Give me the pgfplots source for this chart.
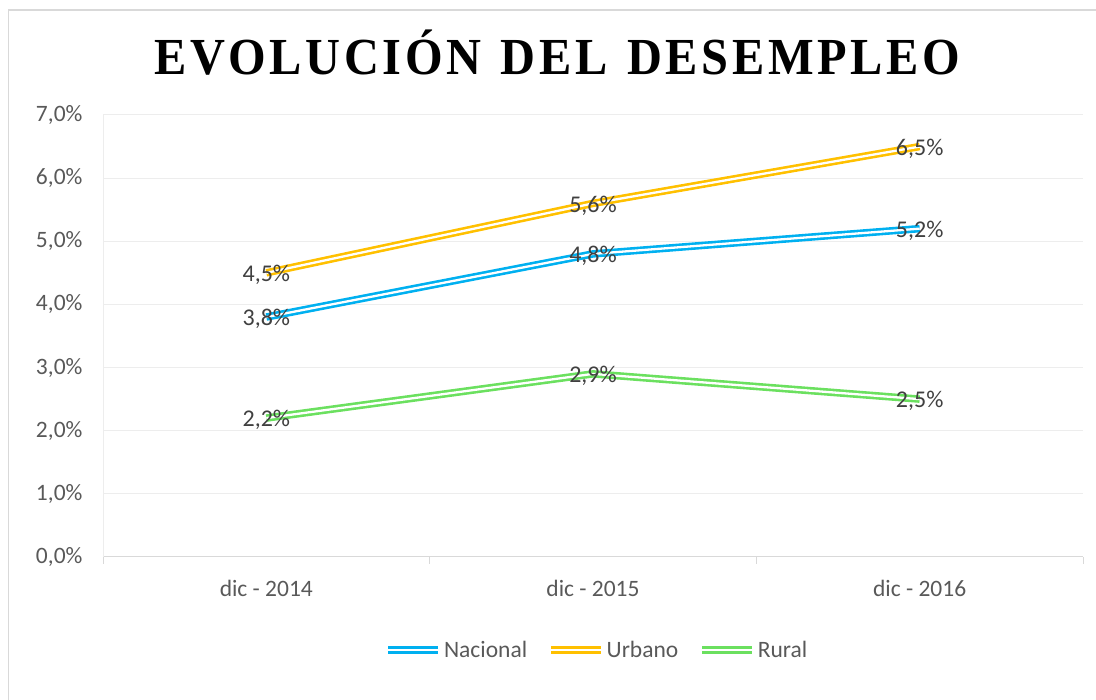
\documentclass[border=0pt]{standalone}
\usepackage{pgfplots}
\pgfplotsset{compat=1.18}
\usepackage{fontspec}
\setmainfont{Carlito}
\newfontfamily\titlefont[LetterSpace=7,FakeStretch=0.93,WordSpace=1.25]{Liberation Serif}
\definecolor{nac}{HTML}{00B0F0}
\definecolor{urb}{HTML}{FFC000}
\definecolor{rur}{HTML}{6BE05F}
\definecolor{tickc}{HTML}{595959}
\definecolor{labc}{HTML}{404040}
\definecolor{gridc}{HTML}{EDEDED}
\definecolor{axc}{HTML}{D9D9D9}
\begin{document}
\begin{tikzpicture}[x=1pt,y=1pt]
\useasboundingbox (0,0) rectangle (1096,700);
\draw[color=axc, line width=1.5pt] (8.5,-20) -- (8.5,690) -- (1120,690);
\node[anchor=base, inner sep=0pt, font=\titlefont\bfseries\fontsize{52}{60}\selectfont] at (557.5,625) {EVOLUCIÓN DEL DESEMPLEO};
\begin{axis}[
  at={(103pt,143pt)}, anchor=south west,
  scale only axis, width=980pt, height=442pt,
  xmin=-0.5, xmax=2.5, ymin=0, ymax=7,
  axis x line=bottom, axis y line=left,
  axis line style={-},
  x axis line style={draw=axc, line width=1pt},
  y axis line style={draw=gridc, line width=1pt},
  xtick={0,1,2},
  xticklabels={dic - 2014, dic - 2015, dic - 2016},
  ytick={0,1,2,3,4,5,6,7},
  yticklabels={{0,0\%},{1,0\%},{2,0\%},{3,0\%},{4,0\%},{5,0\%},{6,0\%},{7,0\%}},
  major tick length=0pt,
  extra x ticks={-0.5,0.5,1.5,2.5},
  extra x tick labels={},
  extra x tick style={grid=none, major tick length=7pt, tick align=outside, tick style={draw=axc, line width=1pt}},
  ymajorgrids, grid style={draw=gridc, line width=1pt},
  tick label style={font=\fontsize{23.5}{28}\selectfont, text=tickc},
  yticklabel style={anchor=east, xshift=-17pt},
  xticklabel style={anchor=base, yshift=-40pt},
  clip=false,
  legend style={at={(0.504,-0.21)}, anchor=center, draw=none, fill=none,
    legend columns=3, font=\fontsize{23.5}{28}\selectfont, text=tickc,
    /tikz/every even column/.append style={column sep=18pt}},
  legend image code/.code={\draw[#1] (0pt,0pt) -- (50pt,0pt);},
  every axis plot/.append style={line width=2.6pt, double=white, double distance=2.3pt, mark=none},
  nodes near coords={\pgfmathprintnumber[fixed,fixed zerofill,precision=1,use comma,assume math mode=true]{\pgfplotspointmeta}\%},
  every node near coord/.append style={anchor=center, yshift=-2pt, text=labc, font=\fontsize{24}{28}\selectfont},
  point meta=y,
]
\addplot[draw=nac] coordinates {(0,3.8) (1,4.8) (2,5.2)};
\addlegendentry{Nacional}
\addplot[draw=urb] coordinates {(0,4.5) (1,5.6) (2,6.5)};
\addlegendentry{Urbano}
\addplot[draw=rur] coordinates {(0,2.2) (1,2.9) (2,2.5)};
\addlegendentry{Rural}
\end{axis}
\end{tikzpicture}
\end{document}
